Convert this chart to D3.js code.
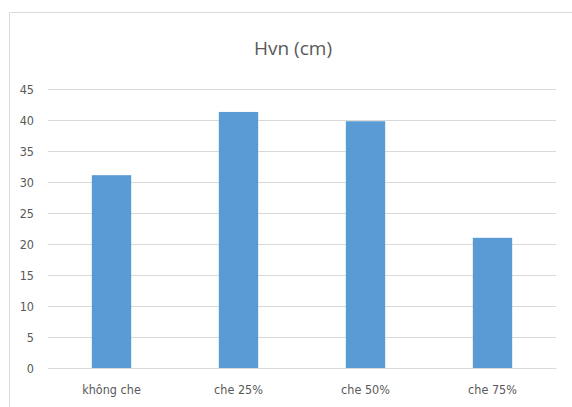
<!DOCTYPE html>
<html><head><meta charset="utf-8">
<script src="https://cdn.jsdelivr.net/npm/d3@7"></script>
<style>body{margin:0;background:#fff}svg{display:block}</style>
</head><body>
<script>
const categories = ["không che", "che 25%", "che 50%", "che 75%"];
const values = [31.1, 41.3, 39.8, 21.0];
const yTicks = [0, 5, 10, 15, 20, 25, 30, 35, 40, 45];
const title = "Hvn (cm)";

const W = 572, H = 407;
const svg = d3.select("body").append("svg").attr("width", W).attr("height", H);
// chart frame
svg.append("path").attr("d", "M9.5,407 L9.5,12.5 L572,12.5")
  .attr("fill", "none").attr("stroke", "#d9d9d9").attr("stroke-width", 1);

const x = d3.scaleBand().domain(categories).range([48, 556]).paddingInner(0.69).paddingOuter(0.345);
const y = d3.scaleLinear().domain([0, 45]).range([368, 89]);

const font = "'Liberation Sans Narrow', 'DejaVu Sans Condensed', 'Open Sans', sans-serif";

const gy = svg.append("g").attr("transform", "translate(48,0)")
  .call(d3.axisLeft(y).tickValues(yTicks).tickSize(-508).tickPadding(14));
gy.select(".domain").remove();
gy.selectAll(".tick line").attr("stroke", "#d9d9d9").attr("stroke-width", 1);
gy.selectAll(".tick text").attr("fill", "#595959").attr("font-size", 12.5).attr("font-family", font);

svg.append("g").selectAll("rect").data(values).join("rect")
  .attr("x", (d, i) => x(categories[i]))
  .attr("y", d => y(d))
  .attr("width", x.bandwidth())
  .attr("height", d => y(0) - y(d))
  .attr("fill", "#5b9bd5");

const gx = svg.append("g").attr("transform", "translate(0,368)")
  .call(d3.axisBottom(x).tickSize(0).tickPadding(17));
gx.select(".domain").attr("stroke", "#d9d9d9");
gx.selectAll(".tick text").attr("fill", "#595959").attr("font-size", 12.5).attr("font-family", font);

svg.append("text").attr("x", 293).attr("y", 55).attr("text-anchor", "middle")
  .attr("fill", "#595959").attr("font-size", 19).attr("font-family", "'Open Sans', sans-serif")
  .text(title);
</script>
</body></html>
